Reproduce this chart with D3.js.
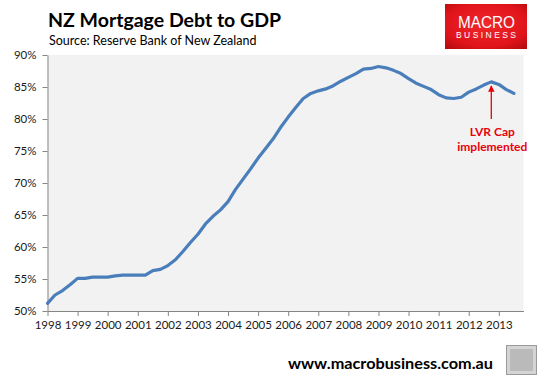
<!DOCTYPE html>
<html><head><meta charset="utf-8">
<script src="https://cdn.jsdelivr.net/npm/d3@7"></script>
<style>html,body{margin:0;padding:0;background:#fff;}svg{display:block;}</style>
</head><body>
<script>
// ---- data ----
const startYear = 1998;           // first quarterly observation
const stepYears = 0.25;           // quarterly
const debtToGDP = [
 51.2,52.5,53.2,54.1,55.1,55.1,55.3,55.3,55.3,55.5,55.6,55.6,55.6,55.6,56.3,56.5,
 57.1,58.0,59.3,60.7,62.0,63.6,64.8,65.8,67.1,69.0,70.6,72.2,73.9,75.4,76.9,78.7,
 80.3,81.8,83.2,84.0,84.4,84.7,85.2,85.9,86.5,87.1,87.8,87.9,88.2,88.0,87.6,87.1,
 86.3,85.6,85.1,84.6,83.8,83.3,83.2,83.4,84.2,84.7,85.3,85.8,85.4,84.6,84.0
];
const yearTicks = [1998,1999,2000,2001,2002,2003,2004,2005,2006,2007,2008,2009,2010,2011,2012,2013];
const pctTicks = [50,55,60,65,70,75,80,85,90];
const annotation = {year: 2012.75, value: 85.8, lines: ["LVR Cap","implemented"]};
const title = "NZ Mortgage Debt to GDP";
const subtitle = "Source: Reserve Bank of New Zealand";
const footer = "www.macrobusiness.com.au";

const W = 544, H = 380;
const svg = d3.select("body").append("svg").attr("width", W).attr("height", H);
const defs = svg.append("defs");
const rg = defs.append("radialGradient").attr("id","red").attr("cx","50%").attr("cy","45%").attr("r","70%");
rg.append("stop").attr("offset","0%").attr("stop-color","#f2272b");
rg.append("stop").attr("offset","70%").attr("stop-color","#e0151b");
rg.append("stop").attr("offset","100%").attr("stop-color","#b80c10");

const x = d3.scaleLinear().domain([1998, 2013.82]).range([47.5, 523.5]);
const y = d3.scaleLinear().domain([50, 90]).range([311, 55]);

// plot background
svg.append("rect").attr("x", x.range()[0]).attr("y", y(90))
  .attr("width", x.range()[1]-x.range()[0]).attr("height", y(50)-y(90)).attr("fill","#f2f2f2");

const font = "Lato, Calibri, 'Open Sans', sans-serif";

// y axis
const yAxis = svg.append("g").attr("transform", `translate(${x.range()[0]},0)`)
  .call(d3.axisLeft(y).tickValues(pctTicks).tickSize(5).tickSizeOuter(0).tickFormat(d => d + "%").tickPadding(6));
// x axis
const xAxis = svg.append("g").attr("transform", `translate(0,${y(50)})`)
  .call(d3.axisBottom(x).tickValues(yearTicks).tickSize(5).tickSizeOuter(0).tickFormat(d3.format("d")).tickPadding(5));
[yAxis, xAxis].forEach(g => {
  g.select(".domain").attr("stroke","#868686");
  g.selectAll(".tick line").attr("stroke","#868686");
  g.selectAll("text").attr("fill","#1a1a1a").style("font-family", font).style("font-size","11.5px");
});

// line
const line = d3.line().x((d,i) => x(startYear + i*stepYears)).y(d => y(d));
svg.append("path").datum(debtToGDP).attr("d", line).attr("fill","none")
  .attr("stroke","#4a7ebb").attr("stroke-width",3.2).attr("stroke-linejoin","round").attr("stroke-linecap","round");

// annotation
const ax = x(annotation.year), ay = y(annotation.value);
defs.append("marker").attr("id","arr").attr("viewBox","0 0 10 10").attr("refX",9).attr("refY",5)
  .attr("markerWidth",5).attr("markerHeight",5).attr("orient","auto-start-reverse")
  .append("path").attr("d","M0,0L10,5L0,10z").attr("fill","#e8000b");
svg.append("line").attr("x1",ax).attr("x2",ax).attr("y1",ay+37).attr("y2",ay+4)
  .attr("stroke","#e8000b").attr("stroke-width",1.3).attr("marker-end","url(#arr)");
annotation.lines.forEach((t,i) => {
  svg.append("text").attr("x", ax+1).attr("y", ay + 54 + i*15).attr("text-anchor","middle")
    .attr("fill","#e8000b").style("font-family",font).style("font-weight","bold").style("font-size","12px").text(t);
});

// titles
svg.append("text").attr("x",48).attr("y",27).style("font-family",font).style("font-weight","bold")
  .style("font-size","19.5px").attr("fill","#000").text(title);
svg.append("text").attr("x",49).attr("y",45).style("font-family",font)
  .style("font-size","12.5px").attr("fill","#000").text(subtitle);

// logo
svg.append("rect").attr("x",445).attr("y",4).attr("width",82).attr("height",45).attr("fill","url(#red)");
svg.append("text").attr("x",458).attr("y",27.5).attr("textLength",57).attr("lengthAdjust","spacingAndGlyphs")
  .style("font-family","'Liberation Sans', Arial, sans-serif")
  .style("font-size","16.5px").attr("fill","#fff").text("MACRO");
svg.append("text").attr("x",456).attr("y",38).attr("textLength",60).attr("lengthAdjust","spacing")
  .style("font-family","'Liberation Sans', Arial, sans-serif")
  .style("font-size","8.5px").attr("fill","#fff").text("BUSINESS");

// footer
svg.append("text").attr("x",288).attr("y",369).attr("textLength",205).attr("lengthAdjust","spacingAndGlyphs")
  .style("font-family",font)
  .style("font-weight","bold").style("font-size","16px").attr("fill","#000").text(footer);
// wolf badge placeholder
svg.append("rect").attr("x",506.5).attr("y",345.5).attr("width",30).attr("height",29)
  .attr("fill","#d4d4d4").attr("stroke","#9a9a9a");
svg.append("rect").attr("x",510).attr("y",349).attr("width",23).attr("height",22).attr("fill","#a8a8a8").attr("opacity",0.6);
</script>
</body></html>
